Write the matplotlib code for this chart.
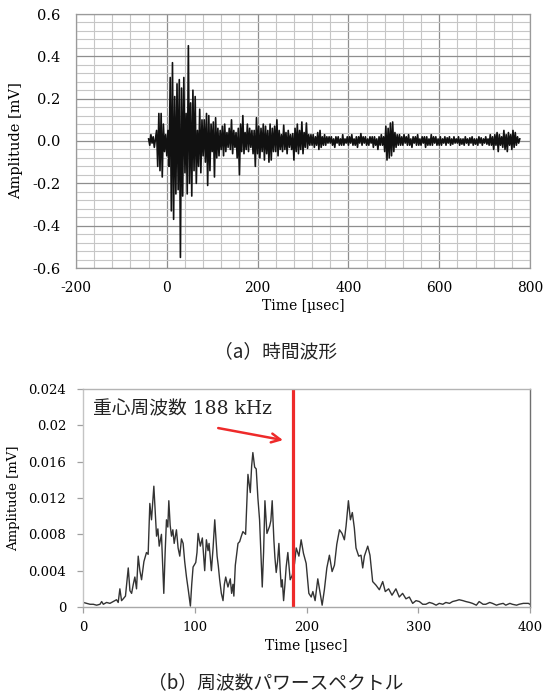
import numpy as np
import matplotlib
matplotlib.use("Agg")
import matplotlib.pyplot as plt
from matplotlib.ticker import MultipleLocator

plt.rcParams['axes.unicode_minus'] = False

# ---------------- data: (a) time waveform ----------------
wave_t0 = -40.0     # first sample time [usec]
wave_dt = 2.5       # sample step [usec]
wave_mv = [
    0.01, -0.02, 0.03, -0.01, 0.02, -0.03, 0.01, 0.05, -0.12, 0.13, -0.14, 0.13, -0.17, 0.08, -0.05, 0.03,
    -0.07, 0.05, -0.12, 0.30, -0.33, 0.37, -0.37, 0.21, -0.25, 0.27, -0.23, 0.29, -0.55, 0.25, -0.26, 0.30,
    -0.15, 0.13, -0.25, 0.45, -0.20, 0.18, -0.26, 0.24, -0.14, 0.21, -0.20, 0.05, -0.12, 0.15, -0.15, 0.10,
    -0.07, 0.10, -0.10, 0.13, -0.21, 0.12, -0.14, 0.08, -0.05, 0.09, -0.17, 0.11, -0.08, 0.06, -0.07, 0.05,
    -0.04, 0.07, -0.07, 0.08, -0.05, 0.04, -0.03, 0.06, -0.04, 0.10, -0.06, 0.05, -0.03, 0.04, -0.08, 0.06,
    -0.16, 0.08, -0.05, 0.12, -0.06, 0.04, -0.04, 0.08, -0.05, 0.06, -0.03, 0.05, -0.06, 0.05, -0.12, 0.11,
    -0.06, 0.07, -0.08, 0.06, -0.05, 0.08, -0.09, 0.07, -0.06, 0.05, -0.10, 0.08, -0.09, 0.06, -0.05, 0.07,
    -0.05, 0.10, -0.07, 0.05, -0.04, 0.03, -0.05, 0.075, -0.04, 0.04, -0.06, 0.05, -0.03, 0.03, -0.04, 0.035,
    -0.09, 0.06, -0.05, 0.08, -0.06, 0.05, -0.04, 0.09, -0.06, 0.04, -0.03, 0.085, -0.035, 0.03, -0.02, 0.03,
    -0.02, 0.03, -0.03, 0.02, -0.02, 0.04, -0.04, 0.05, -0.03, 0.02, -0.02, 0.03, -0.02, 0.02, -0.01, 0.02,
    -0.01, 0.02, -0.02, 0.01, -0.03, 0.02, -0.01, 0.02, -0.02, 0.01, -0.02, 0.03, -0.02, 0.01, -0.01, 0.02,
    -0.02, 0.02, -0.01, 0.03, -0.02, 0.01, -0.02, 0.02, -0.03, 0.02, -0.01, 0.035, -0.02, 0.02, -0.01, 0.02,
    -0.02, 0.01, -0.02, 0.02, -0.01, 0.02, -0.03, 0.02, -0.02, 0.01, -0.04, 0.02, -0.02, 0.03, -0.02, 0.02,
    -0.05, 0.07, -0.09, 0.06, -0.08, 0.085, -0.07, 0.09, -0.05, 0.04, -0.03, 0.03, -0.02, 0.03, -0.02, 0.02,
    -0.02, 0.03, -0.01, 0.02, -0.02, 0.03, -0.02, 0.01, -0.03, 0.02, -0.01, 0.02, -0.02, 0.03, -0.02, 0.01,
    -0.02, 0.02, -0.01, 0.02, -0.03, 0.02, -0.02, 0.01, -0.02, 0.03, -0.02, 0.02, -0.01, 0.02, -0.02, 0.01,
    -0.02, 0.02, -0.02, 0.01, -0.01, 0.02, -0.02, 0.015, -0.01, 0.02, -0.02, 0.01, -0.015, 0.02, -0.01, 0.01,
    -0.01, 0.02, -0.02, 0.01, -0.015, 0.01, -0.02, 0.02, -0.01, 0.01, -0.02, 0.015, -0.01, 0.02, -0.02, 0.01,
    -0.015, 0.01, -0.02, 0.02, -0.01, 0.015, -0.02, 0.01, -0.01, 0.02, -0.015, 0.01, -0.02, 0.03, -0.02, 0.02,
    -0.04, 0.03, -0.02, 0.04, -0.05, 0.03, -0.02, 0.02, -0.03, 0.05, -0.04, 0.03, -0.05, 0.04, -0.02, 0.03,
    -0.04, 0.05, -0.03, 0.04, -0.02, 0.02, -0.01, 0.01,
]
wave_xticks = [-200, 0, 200, 400, 600, 800]
wave_yticks = [-0.6, -0.4, -0.2, 0.0, 0.2, 0.4, 0.6]
wave_ylabels = ['-0.6', '-0.4', '-0.2', '0.0', '0.2', '0.4', '0.6']

# ---------------- data: (b) power spectrum ----------------
spec_freq = [
    0.3, 3.3, 6.3, 9.2, 12.2, 15.2, 16.7, 18.2, 21.1, 24.1, 27.1, 30, 31.5, 33, 34.5, 36, 38, 40.5, 42, 43.5,
    45, 46.4, 47.9, 49.4, 50.9, 52.4, 54.5, 56.8, 58.3, 59.8, 61.3, 63.4, 64.6, 65.8, 67, 68.2, 70.2, 72.3,
    73.5, 74.7, 75.9, 76.8, 78, 79.2, 80.4, 81.6, 83.6, 85.1, 86.6, 88.1, 89.6, 91, 92.6, 94.3, 96.1, 97.3,
    98.5, 100.9, 102, 103, 105, 106.8, 108, 108.9, 110.4, 111.9, 112.8, 114.9, 116.4, 117.9, 120, 121.1,
    122.3, 123.8, 125.3, 126.5, 127.7, 129.7, 131.8, 133, 134.2, 135, 136.3, 138.7, 140.2, 141.7, 143.1,
    145.5, 147.6, 148.8, 149.7, 150.9, 152, 153.6, 155, 156.5, 158, 159.2, 160.4, 161.6, 162.8, 164.6,
    165.8, 167, 168.1, 169.3, 170.8, 171.7, 172.9, 174.1, 175.3, 176.5, 177.4, 178.3, 179.5, 180.7, 181.8,
    183.3, 185.4, 187.3, 189.3, 190.8, 193.2, 195.2, 197.3, 199.7, 202.1, 204.2, 205.7, 207.7, 210.1,
    212.2, 214, 216, 218.2, 220.5, 222.9, 225, 227.1, 229.5, 231.8, 233.9, 235.4, 237.5, 239.3, 241,
    242.8, 244.3, 246.7, 248.8, 250.3, 251.8, 254.8, 256.8, 259.2, 262.2, 265.2, 268.2, 270.5, 273.5,
    276.5, 280, 283, 286, 289, 292, 295, 298, 301, 304, 306.8, 310, 312.8, 316, 318.8, 322, 324.7, 328,
    330.7, 334, 336.6, 340, 342.6, 346, 348.5, 352, 354.5, 358, 360.4, 364, 366.4, 370, 372.3, 376,
    378.3, 382, 384.2, 388, 390.2, 394, 398.5, 400,
]
spec_amp = [
    0.0005, 0.0004, 0.0003, 0.0003, 0.0002, 0.0003, 0.0006, 0.0003, 0.0005, 0.0004, 0.0006, 0.0008, 0.0005,
    0.0020, 0.0007, 0.0009, 0.0012, 0.0043, 0.0018, 0.0015, 0.0025, 0.0033, 0.0020, 0.0056, 0.0040, 0.0030,
    0.0050, 0.0060, 0.0058, 0.0114, 0.0096, 0.0133, 0.0105, 0.0078, 0.0086, 0.0067, 0.0080, 0.0015, 0.0060,
    0.0096, 0.0088, 0.0117, 0.0090, 0.0078, 0.0085, 0.0070, 0.0085, 0.0065, 0.0056, 0.0075, 0.0070, 0.0050,
    0.0033, 0.0018, 0.0001, 0.0025, 0.0044, 0.0049, 0.0060, 0.0081, 0.0067, 0.0076, 0.0055, 0.0040, 0.0074,
    0.0062, 0.0070, 0.0040, 0.0065, 0.0096, 0.0056, 0.0045, 0.0030, 0.0015, 0.0007, 0.0025, 0.0033, 0.0022,
    0.0031, 0.0015, 0.0025, 0.0012, 0.0046, 0.0070, 0.0072, 0.0078, 0.0083, 0.0080, 0.0146, 0.0135, 0.0126,
    0.0155, 0.0170, 0.0154, 0.0152, 0.0120, 0.0096, 0.0060, 0.0022, 0.0060, 0.0117, 0.0081, 0.0085, 0.0089,
    0.0095, 0.0117, 0.0074, 0.0055, 0.0038, 0.0050, 0.0070, 0.0040, 0.0022, 0.0030, 0.0007, 0.0025, 0.0044,
    0.0060, 0.0030, 0.0035, 0.0048, 0.0065, 0.0056, 0.0074, 0.0059, 0.0048, 0.0015, 0.0011, 0.0017, 0.0007,
    0.0031, 0.0015, 0.0002, 0.0019, 0.0043, 0.0057, 0.0039, 0.0046, 0.0069, 0.0085, 0.0081, 0.0074, 0.0089,
    0.0117, 0.0096, 0.0104, 0.0087, 0.0065, 0.0056, 0.0057, 0.0043, 0.0056, 0.0067, 0.0057, 0.0028, 0.0024,
    0.0019, 0.0028, 0.0017, 0.0020, 0.0013, 0.0020, 0.0011, 0.0015, 0.0009, 0.0011, 0.0004, 0.0007, 0.0006,
    0.0003, 0.0003, 0.0005, 0.0004, 0.0002, 0.0004, 0.0003, 0.0005, 0.0004, 0.0006, 0.0007, 0.0008, 0.0007,
    0.0006, 0.0005, 0.0004, 0.0002, 0.0006, 0.0003, 0.0003, 0.0005, 0.0004, 0.0002, 0.0003, 0.0004, 0.0002,
    0.0004, 0.0003, 0.0002, 0.0003, 0.0004, 0.0004, 0.0003,
]
centroid_khz = 188
spec_xticks = [0, 100, 200, 300, 400]
spec_yticks = [0, 0.004, 0.008, 0.012, 0.016, 0.02, 0.024]
spec_ylabels = ['0', '0.004', '0.008', '0.012', '0.016', '0.02', '0.024']

SERIF = ['DejaVu Serif', 'Noto Sans CJK JP']
CJK = ['Noto Sans CJK JP', 'DejaVu Sans']

fig = plt.figure(figsize=(5.43, 6.95), dpi=100)

# ---------------- (a) ----------------
ax1 = fig.add_axes([76 / 543, 1 - 268 / 695, 454 / 543, 254 / 695])
t = wave_t0 + wave_dt * np.arange(len(wave_mv))
ax1.set_xlim(-200, 800)
ax1.set_ylim(-0.6, 0.6)
ax1.set_xticks(wave_xticks)
ax1.set_yticks(wave_yticks)
ax1.set_yticklabels(wave_ylabels)
ax1.xaxis.set_minor_locator(MultipleLocator(40))
ax1.yaxis.set_minor_locator(MultipleLocator(0.04))
ax1.grid(which='minor', color='#c6c6c6', lw=0.8)
ax1.grid(which='major', color='#8e8e8e', lw=0.9)
ax1.set_axisbelow(True)
ax1.tick_params(which='both', length=0)
ax1.tick_params(axis='y', pad=11)
ax1.tick_params(axis='x', pad=9)
for lab in ax1.get_xticklabels():
    lab.set_family(SERIF)
    lab.set_fontsize(10)
for lab in ax1.get_yticklabels():
    lab.set_family(SERIF)
    lab.set_fontsize(10.5)
for sp in ax1.spines.values():
    sp.set_color('#9a9a9a')
    sp.set_linewidth(0.9)
ax1.plot(t, wave_mv, color='#111111', lw=1.2)
ax1.set_xlabel('Time [µsec]', family=SERIF, fontsize=10, labelpad=3)
ax1.set_ylabel('Amplitude [mV]', family=SERIF, fontsize=10.5, labelpad=7)

fig.text(0.507, 1 - 352 / 695, '（a）時間波形', ha='center', va='center',
         family=CJK, fontsize=13.5, color='#222222')

# ---------------- (b) ----------------
ax2 = fig.add_axes([83 / 543, 1 - 607 / 695, 447 / 543, 218 / 695])
ax2.set_xlim(0, 400)
ax2.set_ylim(0, 0.024)
ax2.set_xticks(spec_xticks)
ax2.set_yticks(spec_yticks)
ax2.set_yticklabels(spec_ylabels)
ax2.tick_params(which='both', direction='out', length=4, color='#a0a0a0', width=0.9)
ax2.tick_params(axis='y', pad=8)
ax2.tick_params(axis='x', pad=6)
for lab in ax2.get_xticklabels() + ax2.get_yticklabels():
    lab.set_family(SERIF)
    lab.set_fontsize(9.5)
ax2.spines['left'].set_color('#c4c4c4')
ax2.spines['bottom'].set_color('#a8a8a8')
ax2.spines['top'].set_color('#b4b4b4')
ax2.spines['right'].set_color('#707070')
for sp in ax2.spines.values():
    sp.set_linewidth(1.0)
ax2.plot(spec_freq, spec_amp, color='#333333', lw=1.0)
ax2.axvline(centroid_khz, color='#ee2a2a', lw=2.3)
ax2.annotate('', xy=(179, 0.01837), xytext=(121, 0.0197),
             arrowprops=dict(arrowstyle='->', color='#ee2a2a', lw=1.8,
                             mutation_scale=16, shrinkA=0, shrinkB=0))
ax2.text(9, 0.0218, f'重心周波数 {centroid_khz} kHz', ha='left', va='center',
         family=SERIF, fontsize=13.5, color='#222222')
ax2.set_xlabel('Time [µsec]', family=SERIF, fontsize=10, labelpad=4)
ax2.set_ylabel('Amplitude [mV]', family=SERIF, fontsize=9.5, labelpad=6)

fig.text(0.507, 1 - 683 / 695, '（b）周波数パワースペクトル', ha='center', va='center',
         family=CJK, fontsize=13.5, color='#222222')

fig.savefig('out.png', dpi=100)
